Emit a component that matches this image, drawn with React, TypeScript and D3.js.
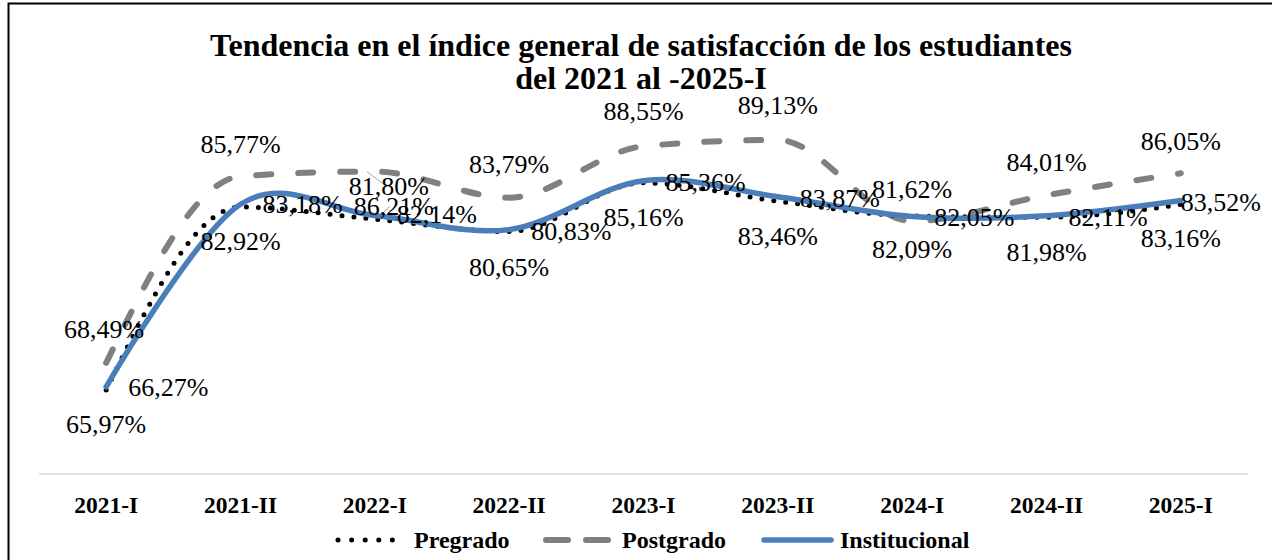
import React from 'react';
import * as d3 from 'd3';

const categories = ['2021-I', '2021-II', '2022-I', '2022-II', '2023-I', '2023-II', '2024-I', '2024-II', '2025-I'];
const pregrado = [65.97, 82.92, 81.8, 80.65, 85.16, 83.46, 82.09, 81.98, 83.16];
const postgrado = [68.49, 85.77, 86.21, 83.79, 88.55, 89.13, 81.62, 84.01, 86.05];
const institucional = [66.27, 83.18, 82.14, 80.83, 85.36, 83.87, 82.05, 82.11, 83.52];

// label offsets from each point (text centre / baseline)
const preOffsets = [[0, 43], [0, 43], [14, -24], [0, 44], [0, 43], [0, 44], [0, 42], [0, 44], [0, 43]];
const postOffsets = [[-2, -25], [0, -23], [19, 43], [0, -25], [0, -26], [0, -26], [0, -23], [0, -24], [0, -23]];
const instOffsets = [[22, 9], [22, 9], [22, 8], [22, 10], [22, 10], [22, 10], [22, 10], [22, 10], [0, 10]];

const W = 1272;
const H = 560;
const font = '"Liberation Serif", "Times New Roman", serif';

const fmt = (v: number) => v.toFixed(2).replace('.', ',') + '%';

export default function App() {
  const x = d3.scalePoint<string>().domain(categories).range([39, 1248]).padding(0.5);
  const y = d3.scaleLinear().domain([58.2, 90]).range([474, 130.6]);

  const mkLine = (curve: d3.CurveFactory) =>
    d3
      .line<number>()
      .x((d, i) => x(categories[i]) as number)
      .y((d) => y(d))
      .curve(curve);

  const series = [
    { name: 'Pregrado', values: pregrado, color: '#000000', width: 5, dash: '0 12', legendDash: '0 13.6', curve: d3.curveMonotoneX, offsets: preOffsets, anchor: 'middle' },
    { name: 'Postgrado', values: postgrado, color: '#808080', width: 6, dash: '15 27', legendDash: '22 18', curve: d3.curveMonotoneX, offsets: postOffsets, anchor: 'middle' },
    { name: 'Institucional', values: institucional, color: '#4A7EBB', width: 5.5, dash: null, legendDash: null, curve: d3.curveCardinal.tension(0), offsets: instOffsets, anchor: 'start' },
  ];

  const i2 = 2;
  const px2 = x(categories[i2]) as number;

  const legend = [
    { s: series[0], x0: 338, x1: 405, tx: 414 },
    { s: series[1], x0: 546, x1: 610, tx: 622 },
    { s: series[2], x0: 764, x1: 831, tx: 840 },
  ];

  return (
    <svg width={W} height={H} style={{ position: 'absolute', left: 0, top: 0, background: '#fff' }}>
      <rect x={8.5} y={3.5} width={W + 10} height={H + 10} fill="#fff" stroke="#000" strokeWidth={2} />

      <text x={641} y={56} textAnchor="middle" fontFamily={font} fontWeight="bold" fontSize={32}>
        Tendencia en el índice general de satisfacción de los estudiantes
      </text>
      <text x={641} y={89} textAnchor="middle" fontFamily={font} fontWeight="bold" fontSize={32}>
        del 2021 al -2025-I
      </text>

      <line x1={39} x2={1248} y1={474} y2={474} stroke="#D9D9D9" strokeWidth={1.5} />
      {categories.map((c) => (
        <text key={c} x={x(c)} y={513} textAnchor="middle" fontFamily={font} fontWeight="bold" fontSize={23.5}>
          {c}
        </text>
      ))}

      {/* leader lines for the crossed labels at 2022-I */}
      <line x1={px2 - 8} y1={y(postgrado[i2])} x2={px2 + 12} y2={y(postgrado[i2]) + 15} stroke="#A6A6A6" strokeWidth={1} />
      <line x1={px2 + 2} y1={y(pregrado[i2])} x2={px2 + 15} y2={y(pregrado[i2]) - 13} stroke="#A6A6A6" strokeWidth={1} />

      {[series[1], series[0], series[2]].map((s) => (
        <path
          key={s.name}
          d={mkLine(s.curve)(s.values) || ''}
          fill="none"
          stroke={s.color}
          strokeWidth={s.width}
          strokeDasharray={s.dash || undefined}
          strokeLinecap="round"
        />
      ))}

      {series.map((s) =>
        s.values.map((v, i) => (
          <text
            key={s.name + i}
            x={(x(categories[i]) as number) + s.offsets[i][0]}
            y={y(v) + s.offsets[i][1]}
            textAnchor={s.anchor as any}
            fontFamily={font}
            fontSize={26}
            fill="#000"
          >
            {fmt(v)}
          </text>
        ))
      )}

      {legend.map((l) => (
        <g key={l.s.name}>
          <line
            x1={l.x0}
            x2={l.x1}
            y1={540}
            y2={540}
            stroke={l.s.color}
            strokeWidth={l.s.width}
            strokeDasharray={l.s.legendDash || undefined}
            strokeLinecap="round"
          />
          <text x={l.tx} y={548} fontFamily={font} fontWeight="bold" fontSize={24}>
            {l.s.name}
          </text>
        </g>
      ))}
    </svg>
  );
}
